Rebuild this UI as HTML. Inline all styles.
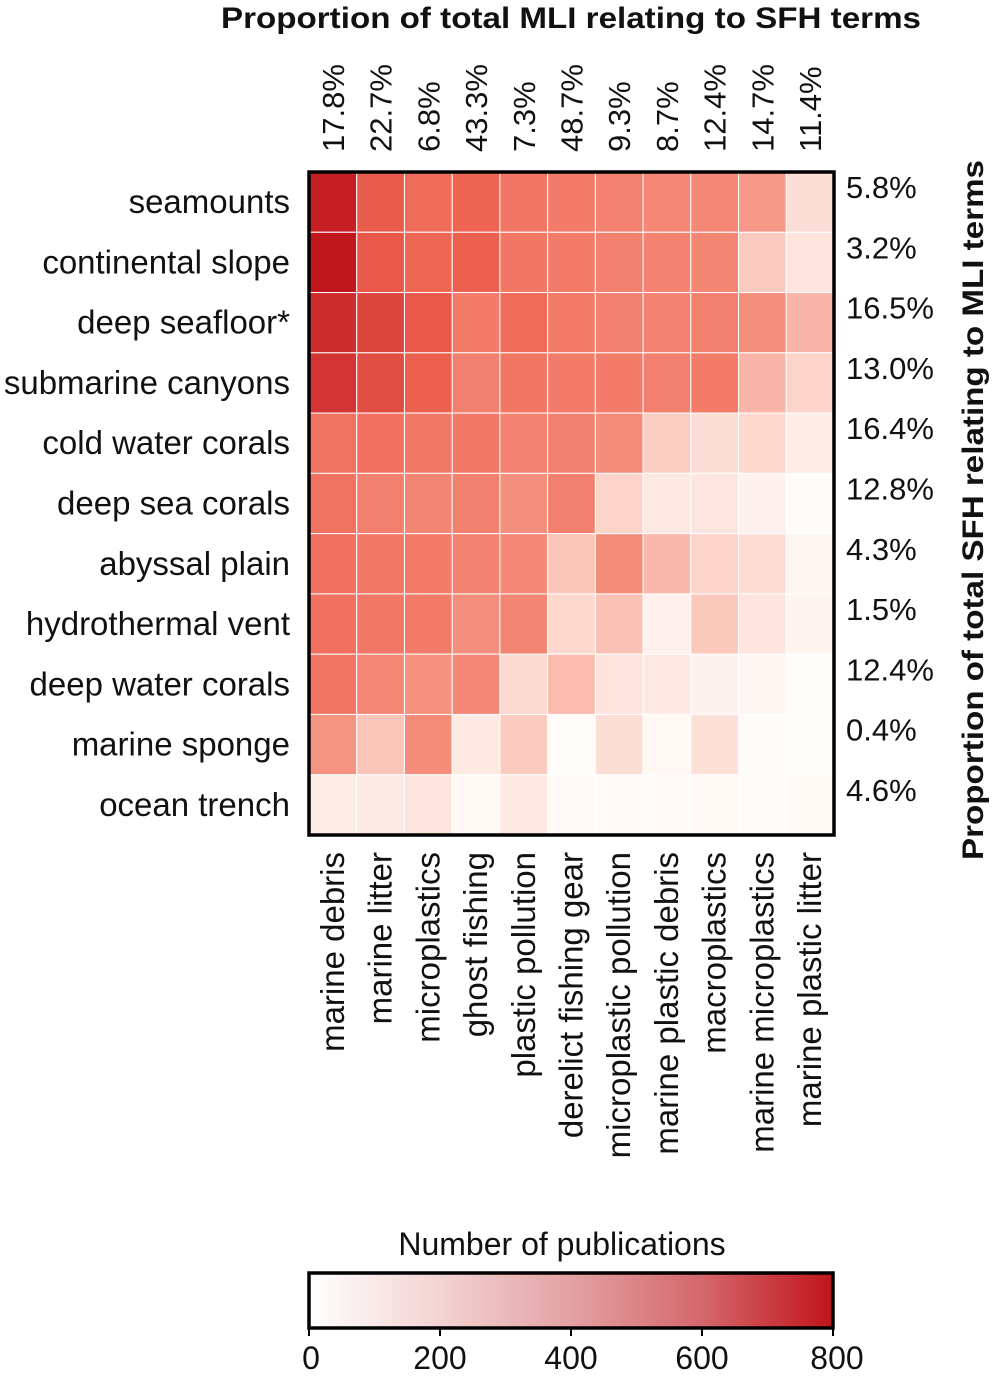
<!DOCTYPE html>
<html><head><meta charset="utf-8"><style>
body{margin:0;background:#fff;}
svg text{font-family:"Liberation Sans",Arial,sans-serif;fill:#111;}
</style></head><body>
<svg id="chart" width="992" height="1376" xmlns="http://www.w3.org/2000/svg">
<defs>
<linearGradient id="cbar" x1="0" x2="1" y1="0" y2="0">
<stop offset="0" stop-color="#ffffff"/><stop offset="0.25" stop-color="#f3d3d2"/>
<stop offset="0.5" stop-color="#e3a1a3"/><stop offset="0.75" stop-color="#d4676a"/>
<stop offset="1" stop-color="#c0141c"/></linearGradient>
</defs>
<g id="cells"></g>
<g id="labels"></g>
</svg>
<script>
const cols=["marine debris","marine litter","microplastics","ghost fishing","plastic pollution","derelict fishing gear","microplastic pollution","marine plastic debris","macroplastics","marine microplastics","marine plastic litter"];
const rows=["seamounts","continental slope","deep seafloor*","submarine canyons","cold water corals","deep sea corals","abyssal plain","hydrothermal vent","deep water corals","marine sponge","ocean trench"];
const colPct=["17.8%","22.7%","6.8%","43.3%","7.3%","48.7%","9.3%","8.7%","12.4%","14.7%","11.4%"];
const rowPct=["5.8%","3.2%","16.5%","13.0%","16.4%","12.8%","4.3%","1.5%","12.4%","0.4%","4.6%"];
const values=[
[780,620,570,600,530,510,480,460,460,390,150],
[800,630,590,610,530,510,490,480,470,230,120],
[740,680,630,510,570,510,490,480,490,430,300],
[720,660,610,490,530,510,510,490,510,300,200],
[540,550,520,520,480,490,440,220,150,180,80],
[540,490,470,490,430,490,200,100,110,60,5],
[550,520,510,480,460,250,440,290,200,160,30],
[550,520,510,430,470,180,260,60,240,120,40],
[530,460,420,460,170,280,120,100,50,30,0],
[410,250,440,100,230,0,150,20,140,5,0],
[80,90,120,15,100,10,10,10,20,5,15]];
const cbTicks=[0,200,400,600,800];
const X0=309,X1=834,Y0=172,Y1=835,cw=(X1-X0)/cols.length,rh=(Y1-Y0)/rows.length;
const xs=i=>X0+i*cw, ys=j=>Y0+j*rh, cbx=v=>309+v/800*524;
const stops=[[0,[255,252,250]],[200,[252,212,202]],[400,[246,150,132]],[600,[238,100,82]],[800,[192,22,30]]];
function col(v){for(let k=1;k<stops.length;k++){if(v<=stops[k][0]){const a=stops[k-1],b=stops[k],t=(v-a[0])/(b[0]-a[0]);return 'rgb('+a[1].map((c,i)=>Math.round(c+(b[1][i]-c)*t)).join(',')+')';}}return 'rgb(192,22,30)';}
const NS="http://www.w3.org/2000/svg";
function mk(tag,attrs,parent,txt){const e=document.createElementNS(NS,tag);for(const k in attrs)e.setAttribute(k,attrs[k]);if(txt!==undefined)e.textContent=txt;parent.appendChild(e);return e;}
const g=document.getElementById('cells'),L=document.getElementById('labels');
values.forEach((r,j)=>r.forEach((v,i)=>{
const e=mk('rect',{x:xs(i),y:ys(j),width:cw,height:rh,fill:col(v),stroke:'#fff','stroke-width':1},g);


}));
const fr=mk('rect',{x:X0,y:Y0,width:X1-X0,height:Y1-Y0,fill:'none',stroke:'#000','stroke-width':3.5},g);


rows.forEach((r,j)=>{
const t=mk('text',{x:290,y:ys(j)+rh/2+11,'text-anchor':'end','font-size':33},L,r);


const p=mk('text',{x:846,y:ys(j)+rh/2-4,'font-size':31},L,rowPct[j]);


});
cols.forEach((c,i)=>{
const cx=xs(i)+cw/2+11;
const t=mk('text',{transform:`translate(${cx},852) rotate(-90)`,'text-anchor':'end','font-size':33},L,c);


const p=mk('text',{transform:`translate(${cx},152) rotate(-90)`,'text-anchor':'start','font-size':31},L,colPct[i]);


});
const tt=mk('text',{x:221,y:28,'font-size':30,'font-weight':'bold',textLength:700,lengthAdjust:'spacingAndGlyphs'},L,'Proportion of total MLI relating to SFH terms');


const rt=mk('text',{transform:'translate(983,860) rotate(-90)','font-size':30,'font-weight':'bold',textLength:700,lengthAdjust:'spacingAndGlyphs'},L,'Proportion of total SFH relating to MLI terms');


const ct=mk('text',{x:562,y:1255,'text-anchor':'middle','font-size':32},L,'Number of publications');


const cb=mk('rect',{x:309,y:1273,width:524,height:55,fill:'url(#cbar)',stroke:'#000','stroke-width':3.5},L);


cbTicks.forEach(v=>{
const ln=mk('line',{x1:cbx(v),x2:cbx(v),y1:1328,y2:1336,stroke:'#000','stroke-width':2},L);


const t=mk('text',{x:cbx(v)+(v===0?2:(v===800?4:0)),y:1369,'text-anchor':'middle','font-size':32},L,String(v));


});
</script>
</body></html>
